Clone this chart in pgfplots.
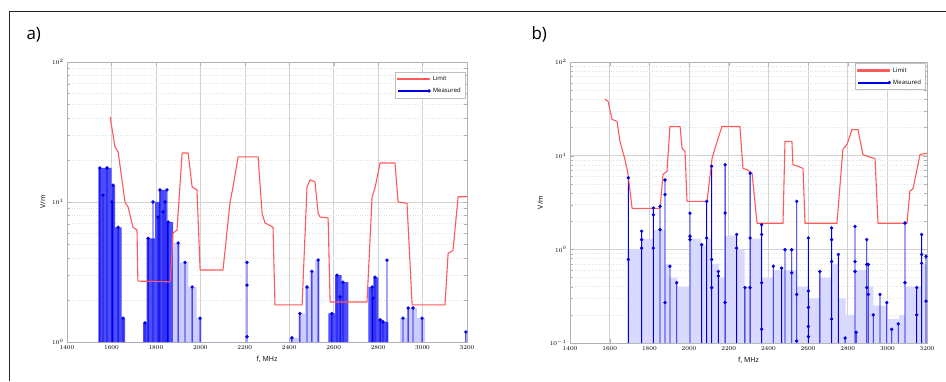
\documentclass[border=0pt]{standalone}
\usepackage{fontspec}
\setmainfont{Open Sans}
\usepackage{pgfplots}
\usepackage{pgfplotstable}
\pgfplotsset{compat=1.18}
\pgfplotstableread{
x y
1548 17.5
1580 17.5
1562 11.2
1602 10
1607 13.2
1630 6.6
1652 1.48
1751 1.37
1765 5.5
1787 10
1810 7.8
1818 12.2
1832 8.5
1841 10
1850 12.2
1855 7.2
1900 5.1
1931 3.7
1963 2.47
1999 1.48
2210 3.7
2210 2.55
2210 1.09
2412 1.07
2448 1.6
2480 2.47
2502 3.2
2530 3.85
2592 1.6
2615 3.0
2629 2.1
2642 2.68
2773 2.47
2786 2.9
2777 2.06
2809 1.44
2822 1.39
2840 3.85
2912 1.48
2935 1.75
2957 1.75
2998 1.48
3195 1.18
}\stemsA
\pgfplotstableread{
x y
1694 5.8
1694 0.78
1761 1.56
1761 1.27
1761 1.03
1820 2.76
1820 2.34
1820 1.03
1854 2.88
1854 1.62
1879 5.5
1879 3.84
1879 0.27
1904 0.66
1938 0.44
2005 2.44
2005 1.38
2005 1.27
2064 1.12
2089 3.25
2089 1.32
2114 7.7
2114 0.78
2114 0.39
2148 0.58
2148 0.52
2182 8.0
2182 2.44
2182 0.27
2240 1.44
2240 1.03
2282 0.39
2308 6.5
2308 1.32
2308 0.39
2366 1.83
2366 1.44
2366 0.44
2366 0.14
2425 0.66
2467 0.63
2484 0.99
2518 0.99
2518 0.56
2543 3.25
2543 0.33
2543 0.105
2602 1.32
2602 0.36
2602 0.24
2602 0.15
2602 0.117
2660 0.58
2719 1.69
2719 1.27
2719 0.74
2719 0.18
2753 0.88
2787 0.113
2837 1.76
2837 0.74
2837 0.58
2843 0.13
2896 1.27
2896 0.69
2896 0.39
2904 0.69
2904 0.33
2929 0.20
2963 0.33
2997 0.27
3022 0.14
3055 0.16
3089 1.91
3089 0.44
3148 0.39
3148 0.20
3173 1.44
3173 0.88
3173 0.71
3195 0.84
3195 0.28
}\stemsB
\pgfplotsset{
  every axis/.append style={
    scale only axis,
    xmin=1400, xmax=3200,
    xtick={1400,1600,...,3200},
    /pgf/number format/1000 sep={},
    axis line style={gray!60},
    tick style={gray!60},
    grid=both,
    major grid style={gray!35},
    minor grid style={gray!22, dotted},
    tick label style={font=\fontsize{6}{7}\selectfont},
    label style={font=\fontsize{7}{8}\selectfont},
    xlabel={f, MHz},
    ylabel={V/m},
    legend style={font=\fontsize{6}{7}\selectfont, draw=gray!50, fill=white,
      row sep=2pt, inner sep=2pt},
    legend cell align=left,
  },
  myredline/.style={color=red!65!white, line width=1.1pt, no marks, line join=round,
    legend image code/.code={\fill[red!65!white] (0cm,-0.55pt) rectangle (1.1cm,0.55pt);}},
  mycomb/.style={ybar, bar width=0.9pt, bar shift=0pt, fill=blue!90!black, draw=none, forget plot},
  mymarks/.style={only marks, mark=*, mark size=1.5pt, color=blue!90!black,
    legend image code/.code={\fill[blue!90!black] (0cm,-0.4pt) rectangle (1.1cm,0.4pt);
      \fill[blue!90!black] (1.1cm,0cm) circle (1.5pt);}},
}
\begin{document}
\begin{tikzpicture}
\path[use as bounding box] (0pt,0pt) rectangle (946pt,381pt);
\fill[black!85] (8.5pt,0pt) rectangle (9.5pt,369.5pt);
\fill[black!85] (8.5pt,368.5pt) rectangle (946pt,369.5pt);
\node[anchor=base west, font=\fontsize{17}{20}\selectfont] at (23pt,341pt) {a)};
\node[anchor=base west, font=\fontsize{17}{20}\selectfont] at (528pt,341pt) {b)};

% ---------------- panel a ----------------
\begin{axis}[ymode=log, log origin y=infty, at={(67pt,39pt)}, anchor=south west,
  width=400pt, height=280pt, ymin=1, ymax=100,
  legend style={at={(0.995,0.965)}, anchor=north east}]
\addplot[ybar interval, fill=blue!70, draw=none, forget plot] coordinates {
(1541,17.5) (1601,13.2) (1616,6.6) (1646,1.48) (1661,1) (1743,1.37) (1758,5.5)
(1796,10) (1818,12.2) (1848,7.2) (1878,1) (2576,1.6) (2606,3.0) (2636,2.68)
(2666,1) (2756,2.47) (2779,2.9) (2801,1.44) (2824,1.39) (2846,1)};
\addplot[ybar interval, fill=blue!20, draw=none, forget plot] coordinates {
(1878,5.1) (1908,3.7) (1946,2.47) (1983,1.48) (2006,1) (2403,1.07) (2441,1.6)
(2471,2.47) (2493,3.2) (2516,3.85) (2538,1) (2899,1.48) (2929,1.75) (2974,1.48) (3011,1)};
\addplot[mycomb] table {\stemsA};
\addplot[myredline] coordinates {
(1594,40.5) (1616,24.7) (1630,22.8) (1661,10) (1675,9.2) (1697,6.6) (1715,6.3)
(1719,2.72) (1790,2.71) (1865,2.69) (1877,6.0) (1895,6.3) (1918,22.4) (1945,22.4) (1963,12.8)
(1985,12.2) (1999,3.27) (2102,3.27) (2134,10) (2147,12.8) (2170,21) (2260,21)
(2278,8.3) (2291,7.1) (2327,6.6) (2336,1.84) (2458,1.84) (2480,12.8) (2494,14.4)
(2516,13.9) (2530,8.3) (2539,7.8) (2575,7.7) (2584,1.93) (2750,1.93) (2773,10.9)
(2786,12.6) (2809,19) (2876,19) (2890,10) (2930,9.8) (2953,1.84) (3101,1.84)
(3115,4.3) (3137,4.5) (3160,10.9) (3200,10.9)};
\addlegendentry{Limit}
\addplot[mymarks] table {\stemsA};
\addlegendentry{Measured}
\end{axis}

% ---------------- panel b ----------------
\begin{axis}[ymode=log, log origin y=infty, at={(570pt,38pt)}, anchor=south west,
  width=357pt, height=281pt, ymin=0.1, ymax=100,
  legend style={at={(0.995,0.995)}, anchor=north east}]
\addplot[ybar interval, fill=blue!15, draw=none, forget plot] coordinates {
(1690,1.0) (1760,1.3) (1820,1.6) (1880,0.7) (1900,0.5) (1940,0.4) (2000,1.3)
(2060,1.1) (2090,1.3) (2115,0.7) (2150,0.5) (2180,1.4) (2240,1.0) (2280,0.4)
(2310,1.3) (2365,0.5) (2425,0.6) (2470,0.6) (2520,0.6) (2545,0.4) (2600,0.3)
(2660,0.5) (2720,0.7) (2755,0.3) (2790,0.2) (2835,0.6) (2895,0.4) (2930,0.25)
(2965,0.25) (3000,0.18) (3060,0.2) (3090,0.4) (3150,0.4) (3175,0.7) (3200,0.1)};
\addplot[mycomb] table {\stemsB};
\addplot[myredline] coordinates {
(1576,40) (1592,38) (1612,24.4) (1637,23.2) (1652,14.2) (1677,9.1) (1692,6.5)
(1713,2.74) (1854,2.74) (1869,6.3) (1889,6.8) (1904,20.5) (1955,20.5) (1965,12)
(1980,11.1) (1990,3.25) (2091,3.25) (2116,9.3) (2131,12) (2166,20.5) (2257,20.5)
(2272,7.3) (2292,7.1) (2318,6.5) (2343,1.9) (2474,1.9) (2484,14.2) (2519,14.2)
(2524,8.0) (2550,7.7) (2575,7.3) (2585,1.9) (2746,1.9) (2776,11.7) (2797,13.2)
(2822,19) (2852,19) (2877,10.3) (2902,9.8) (2938,9.3) (2953,1.9) (3099,1.9)
(3114,4.2) (3129,4.4) (3165,10.3) (3200,10.6)};
\addlegendentry{Limit}
\addplot[mymarks] table {\stemsB};
\addlegendentry{Measured}
\end{axis}
\end{tikzpicture}
\end{document}
